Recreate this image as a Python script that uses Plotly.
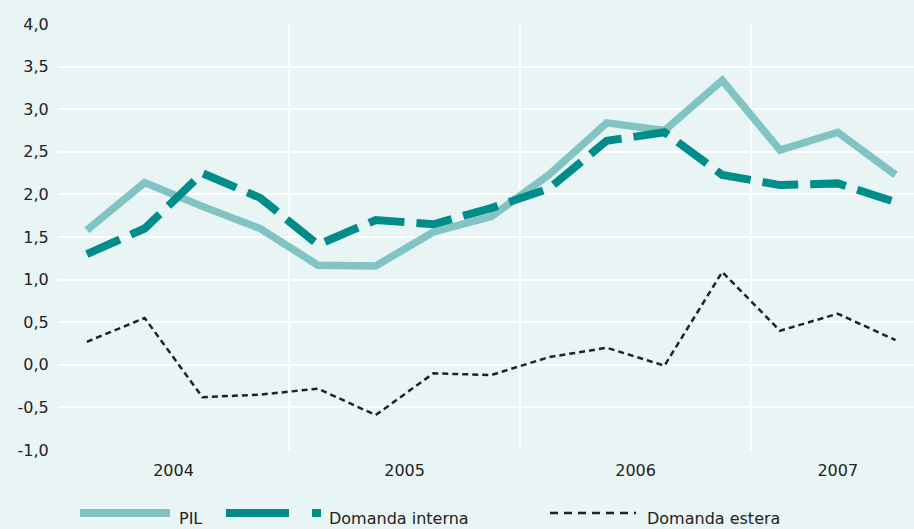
import plotly.graph_objects as go

quarters = ["2004T1", "2004T2", "2004T3", "2004T4",
            "2005T1", "2005T2", "2005T3", "2005T4",
            "2006T1", "2006T2", "2006T3", "2006T4",
            "2007T1", "2007T2", "2007T3"]
pil = [1.58, 2.14, 1.86, 1.60, 1.17, 1.16, 1.56, 1.74, 2.23, 2.84, 2.75, 3.34, 2.52, 2.73, 2.23]
domanda_interna = [1.30, 1.60, 2.25, 1.96, 1.41, 1.70, 1.65, 1.84, 2.07, 2.63, 2.73, 2.23, 2.11, 2.13, 1.91]
domanda_estera = [0.27, 0.55, -0.38, -0.35, -0.28, -0.59, -0.10, -0.12, 0.09, 0.20, -0.01, 1.09, 0.40, 0.60, 0.29]

year_labels = ["2004", "2005", "2006", "2007"]
year_positions = [1.5, 5.5, 9.5, 13]
y_tickvals = [-1.0, -0.5, 0.0, 0.5, 1.0, 1.5, 2.0, 2.5, 3.0, 3.5, 4.0]
y_ticktext = ["-1,0", "-0,5", "0,0", "0,5", "1,0", "1,5", "2,0", "2,5", "3,0", "3,5", "4,0"]

BG = "#E9F5F5"
C_PIL = "#82C3C3"
C_DI = "#008C88"
C_DE = "#222222"
FONT = "DejaVu Sans, Liberation Sans, Arial, sans-serif"

x = list(range(len(quarters)))

fig = go.Figure()
fig.add_trace(go.Scatter(x=x, y=pil, mode="lines", name="PIL",
                         line=dict(color=C_PIL, width=7.5), showlegend=False))
fig.add_trace(go.Scatter(x=x, y=domanda_interna, mode="lines", name="Domanda interna",
                         line=dict(color=C_DI, width=8, dash="36px,12px"), showlegend=False))
fig.add_trace(go.Scatter(x=x, y=domanda_estera, mode="lines", name="Domanda estera",
                         line=dict(color=C_DE, width=2.5, dash="6px,4px"), showlegend=False))

# manual legend (paper coords)
L, R, T, B = 58, 914, 24, 450
def px(v):
    return (v - L) / (R - L)
def py(v):
    return (B - v) / (B - T)

ly = py(513)
ty = py(518.5)
fig.add_shape(type="line", xref="paper", yref="paper", x0=px(80), x1=px(170), y0=ly, y1=ly,
              line=dict(color=C_PIL, width=8))
fig.add_shape(type="line", xref="paper", yref="paper", x0=px(226), x1=px(321), y0=ly, y1=ly,
              line=dict(color=C_DI, width=8, dash="63px,23px"))
fig.add_shape(type="line", xref="paper", yref="paper", x0=px(550), x1=px(636), y0=ly, y1=ly,
              line=dict(color=C_DE, width=2.5, dash="8px,6px"))
for txt, xx in [("PIL", 177), ("Domanda interna", 327), ("Domanda estera", 645)]:
    fig.add_annotation(text=txt, xref="paper", yref="paper", x=px(xx), y=ty,
                       xanchor="left", yanchor="middle", showarrow=False,
                       font=dict(family=FONT, size=16, color="#222222"))

fig.update_layout(
    width=914, height=529,
    paper_bgcolor=BG, plot_bgcolor=BG,
    margin=dict(l=L, r=0, t=T, b=529 - B),
    font=dict(family=FONT, size=16, color="#222222"),
    showlegend=False,
)
fig.update_xaxes(
    range=[-0.5, 14.32],
    tickvals=year_positions, ticktext=year_labels,
    showgrid=False, zeroline=False, showline=False,
    ticks="outside", ticklen=6, tickcolor=BG,
    minor=dict(tick0=-0.5, dtick=4, showgrid=True, gridcolor="white", gridwidth=1.5, ticks=""),
    tickfont=dict(size=16),
)
fig.update_yaxes(
    range=[-1, 4.001],
    tickvals=y_tickvals, ticktext=y_ticktext,
    showgrid=True, gridcolor="white", gridwidth=1.5,
    zeroline=False, showline=False,
    ticks="outside", ticklen=5, tickcolor=BG,
    tickfont=dict(size=16),
)

fig.write_html("out.html", config={"displayModeBar": False},
               post_script="document.body.style.margin='0';document.body.style.background='" + BG + "';")
